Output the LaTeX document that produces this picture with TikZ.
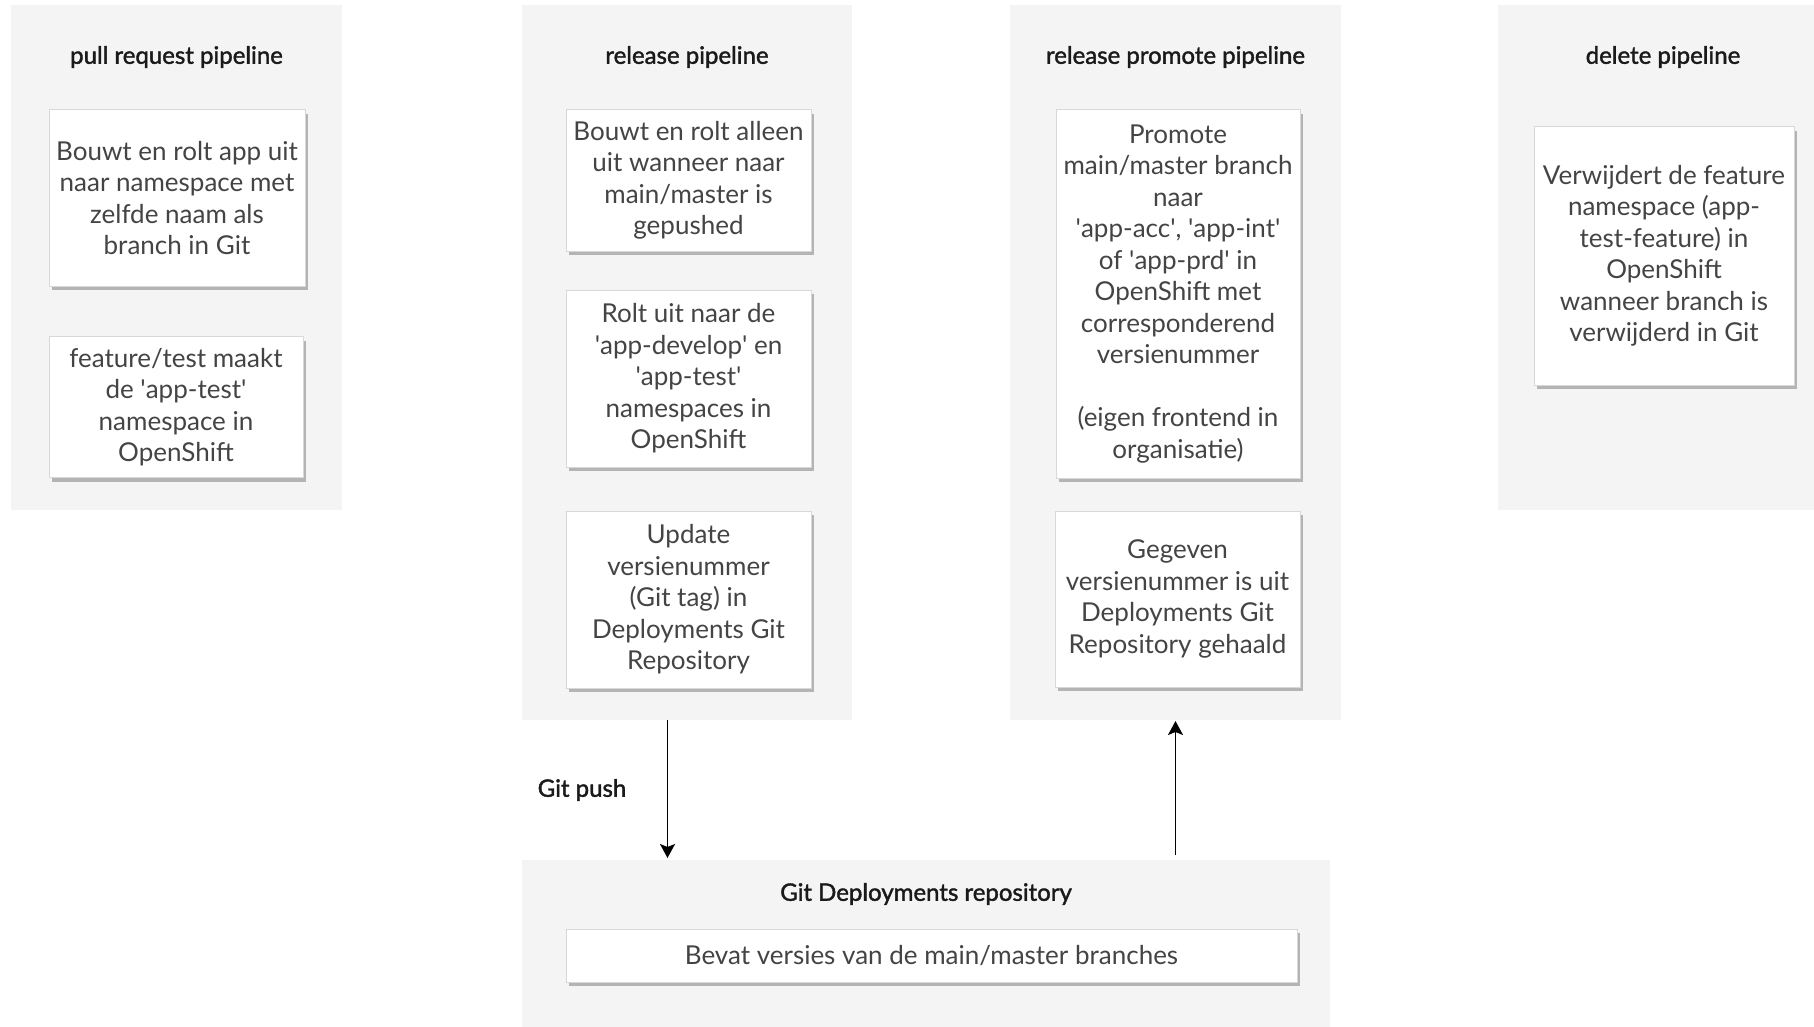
\documentclass[tikz,border=0pt]{standalone}
\usepackage{fontspec}
\setmainfont{Lato}
\newfontfamily\titlefont{Lato}[FakeBold=1.6]
\usetikzlibrary{arrows.meta,shadows}
\definecolor{grpbg}{HTML}{F4F4F4}
\definecolor{txt}{HTML}{444444}
\definecolor{ttl}{HTML}{1A1A1A}
\definecolor{bordr}{HTML}{D8D8D8}
\definecolor{shad}{HTML}{B4B4B4}
\newcommand{\sq}{\textquotesingle}
\tikzset{
  grp/.style={fill=grpbg, draw=none, inner sep=0pt, outer sep=0pt},
  ttlstyle/.style={font=\titlefont\fontsize{24}{28}\selectfont, text=ttl, inner sep=0pt},
  card/.style={fill=white, draw=bordr, line width=1pt, align=center, inner sep=0pt,
    font=\fontsize{26}{31.5}\selectfont, text=txt,
    drop shadow={shadow xshift=3pt, shadow yshift=-4pt, fill=shad, opacity=1}},
  conn/.style={line width=1.8pt, -{Stealth[length=14pt,width=15pt,inset=3pt]}}
}
\begin{document}
\begin{tikzpicture}[x=1pt,y=-1pt]
\clip (0,0) rectangle (1814,1027);
\fill[white] (0,0) rectangle (1814,1027);
% groups
\node[grp, minimum width=331pt, minimum height=505pt] (g1) at (176.5,257.5) {};
\node[grp, minimum width=330pt, minimum height=715pt] (g2) at (687,362.5) {};
\node[grp, minimum width=331pt, minimum height=715pt] (g3) at (1175.5,362.5) {};
\node[grp, minimum width=330pt, minimum height=505pt] (g4) at (1663,257.5) {};
\node[grp, minimum width=808pt, minimum height=180pt] (g5) at (926,950) {};
% titles
\node[ttlstyle] (t1) at (176.5,57) {pull request pipeline};
\node[ttlstyle] (t2) at (687,57) {release pipeline};
\node[ttlstyle] (t3) at (1175.5,57) {release promote pipeline};
\node[ttlstyle] (t4) at (1663,57) {delete pipeline};
\node[ttlstyle] (t5) at (926,894) {Git Deployments repository};
% cards
\node[card, minimum width=256pt, minimum height=176pt] (b1) at (177,198)
  {Bouwt en rolt app uit\\naar namespace met\\zelfde naam als\\branch in Git};
\node[card, minimum width=254pt, minimum height=141pt] (b2) at (176,407)
  {feature/test maakt\\de \sq app-test\sq\\namespace in\\OpenShift};
\node[card, minimum width=245pt, minimum height=141pt] (bA) at (688.5,180.5)
  {Bouwt en rolt alleen\\uit wanneer naar\\main/master is\\gepushed};
\node[card, minimum width=245pt, minimum height=177pt] (bB) at (688.5,378.5)
  {Rolt uit naar de\\\sq app-develop\sq{} en\\\sq app-test\sq\\namespaces in\\OpenShift};
\node[card, minimum width=245pt, minimum height=177pt] (bC) at (688.5,599.5)
  {Update\\versienummer\\(Git tag) in\\Deployments Git\\Repository};
\node[card, minimum width=244pt, minimum height=368pt] (bD) at (1178,294)
  {Promote\\main/master branch\\naar\\\sq app-acc\sq, \sq app-int\sq\\of \sq app-prd\sq{} in\\OpenShift met\\corresponderend\\versienummer\\~\\(eigen frontend in\\organisatie)};
\node[card, minimum width=245pt, minimum height=176pt] (bE) at (1177.5,599)
  {Gegeven\\versienummer is uit\\Deployments Git\\Repository gehaald};
\node[card, minimum width=260pt, minimum height=258pt] (bF) at (1664,256)
  {Verwijdert de feature\\namespace (app-\\test-feature) in\\OpenShift\\wanneer branch is\\verwijderd in Git};
\node[card, minimum width=731pt, minimum height=53pt] (bG) at (931.5,955.5)
  {Bevat versies van de main/master branches};
% connectors
\coordinate (x1) at (667.5,0);
\coordinate (x2) at (1175.5,0);
\draw[conn] (g2.south -| x1) -- ([yshift=2pt]g5.north -| x1);
\draw[conn] ([yshift=5pt]g5.north -| x2) -- ([yshift=-1pt]g3.south -| x2);
\node[ttlstyle] (gp) at (582,790) {Git push};
\end{tikzpicture}
\end{document}
